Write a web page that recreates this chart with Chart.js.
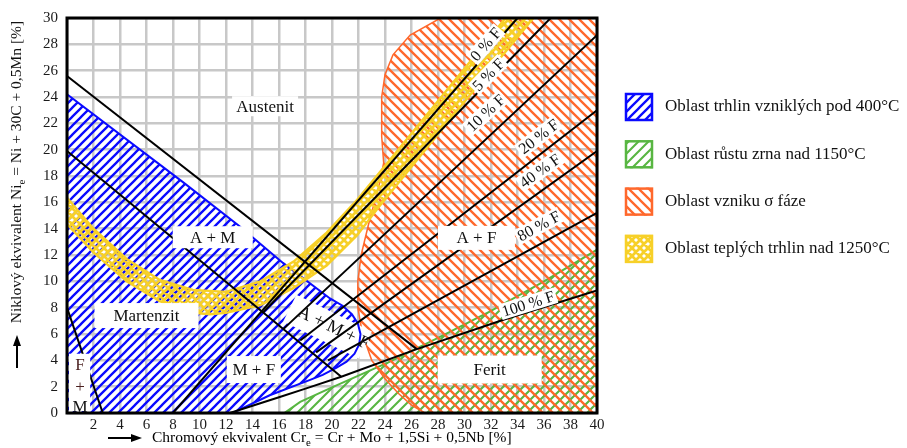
<!DOCTYPE html>
<html>
<head>
<meta charset="utf-8">
<title>Schaefflerův diagram</title>
<script src="https://cdn.jsdelivr.net/npm/chart.js@4.4.1/dist/chart.umd.min.js"></script>
<style>
  body { margin: 0; background: #fff; }
  canvas { display: block; }
</style>
</head>
<body>
<canvas id="schaeffler" width="907" height="448"></canvas>
<script>
const crLabels = [2, 4, 6, 8, 10, 12, 14, 16, 18, 20, 22, 24, 26, 28, 30, 32, 34, 36, 38, 40];
const niLabels = [0, 2, 4, 6, 8, 10, 12, 14, 16, 18, 20, 22, 24, 26, 28, 30];

// phase boundaries, points are [Cr_e, Ni_e]
const austeniteLine = [[0, 25.6], [26.4, 4.85]];
const martensiteLine = [[0, 19.9], [20.7, 2.75]];
const fmLine = [[0, 8.0], [2.7, 0]];
const ferrite0 = [[8.0, 0], [34.0, 30]];
const ferrite5 = [[14.75, 7.6], [36.5, 30]];
const ferrite10 = [[16.3, 6.35], [40, 28.7]];
const ferrite20 = [[17.6, 5.5], [40, 23.0]];
const ferrite40 = [[18.8, 4.6], [40, 19.9]];
const ferrite80 = [[19.7, 4.0], [40, 15.2]];
const ferrite100 = [[12.3, 0], [14, 0.55], [16, 1.2], [18, 1.85], [20.7, 2.75], [26.4, 4.85], [33, 7.1], [40, 9.3]];

// hatched zones
const crackZone = [[0, 24.2], [8.8, 17.5], [13, 14.2], [16.3, 11.4], [19.85, 8.7], [20.8, 8.15], [21.5, 7.5],
  [21.95, 6.8], [22.15, 6.0], [22.05, 5.2], [21.7, 4.5], [21.1, 3.9], [20.35, 3.45], [19.3, 2.9],
  [18.3, 2.5], [15.3, 1.35], [12.5, 0], [0, 0], [0, 24.2]];
const grainZone = [[16.4, 0], [17.6, 0.85], [20, 1.95], [24.25, 3.85], [28, 5.7], [31.9, 7.7], [36, 10], [40, 12.4], [40, 0], [16.4, 0]];
const sigmaZone = [[28.2, 30], [25.9, 28.7], [24.6, 27.2], [24.0, 25.7], [23.75, 24.0], [23.75, 21.0], [23.9, 19.0],
  [23.6, 17.5], [23.2, 16.0], [22.75, 14.3], [22.2, 12.0], [21.95, 10.0], [21.95, 8.0], [22.3, 6.0], [23.0, 4.0],
  [24.0, 2.6], [25.0, 1.5], [26.0, 0.6], [27.0, 0], [40, 0], [40, 30], [28.2, 30]];
const hotCrackBand = [[0, 16.35], [2, 14.0], [4.5, 11.7], [7, 10.1], [9.5, 9.35], [12, 9.2], [14.6, 10.0], [17.1, 11.5],
  [19.6, 13.7], [21.9, 16.2], [25, 20], [28, 23.7], [31, 27.4], [33.1, 30],
  [35.2, 30], [32, 26.1], [29, 22.4], [26, 18.7], [23.5, 15.6], [21.9, 13.5], [19.6, 11.2], [17.1, 9.5],
  [14.6, 8.2], [12, 7.6], [10.8, 7.5], [9.5, 7.6], [7, 8.5], [4.5, 10.0], [2, 12.2], [0, 14.35], [0, 16.35]];

const zoneNames = [
  'Oblast trhlin vzniklých pod 400°C',
  'Oblast růstu zrna nad 1150°C',
  'Oblast vzniku σ fáze',
  'Oblast teplých trhlin nad 1250°C'
];

const SERIF = "'Liberation Serif', 'Times New Roman', serif";

function hatch(color, size, width, dirs) {
  const c = document.createElement('canvas');
  c.width = size; c.height = size;
  const g = c.getContext('2d');
  g.strokeStyle = color;
  g.lineWidth = width;
  g.beginPath();
  for (let k = -1; k <= 1; k++) {
    if (dirs.includes('/')) { g.moveTo(k * size - size, 2 * size); g.lineTo(k * size + 2 * size, -size); }
    if (dirs.includes('\\')) { g.moveTo(k * size - size, -size); g.lineTo(k * size + 2 * size, 2 * size); }
  }
  g.stroke();
  return g.createPattern(c, 'repeat');
}

const blue = '#0a0aff', green = 'rgb(88,182,66)', orange = 'rgb(255,104,44)', yellow = 'rgb(247,208,40)';
const bluePat = hatch(blue, 9, 2.3, '/');
const greenPat = hatch(green, 10, 2.1, '/');
const orangePat = hatch(orange, 10, 2.3, '\\');
const yellowPat = hatch(yellow, 8, 2.8, '/\\');

const toXY = pts => pts.map(([x, y]) => ({ x, y }));
const boundary = (label, pts) => ({
  label, data: toXY(pts), showLine: true, borderColor: '#000', borderWidth: 2,
  pointRadius: 0, fill: false, tension: 0
});
const zone = (label, pts, color, pattern, bw) => ({
  label, data: toXY(pts), showLine: true, borderColor: color, borderWidth: bw,
  backgroundColor: pattern, pointRadius: 0, fill: 'shape', tension: 0
});

// first entries are drawn on top
const datasets = [
  boundary('0 % F', ferrite0),
  boundary('5 % F', ferrite5),
  boundary('10 % F', ferrite10),
  boundary('20 % F', ferrite20),
  boundary('40 % F', ferrite40),
  boundary('80 % F', ferrite80),
  boundary('100 % F', ferrite100),
  boundary('A / A+M', austeniteLine),
  boundary('M', martensiteLine),
  boundary('F+M', fmLine),
  zone(zoneNames[3], hotCrackBand, yellow, yellowPat, 2.4),
  zone(zoneNames[0], crackZone, blue, bluePat, 2),
  zone(zoneNames[2], sigmaZone, orange, orangePat, 1.5),
  zone(zoneNames[1], grainZone, green, greenPat, 2)
];
const BLUE_INDEX = 11;
const legendZones = [
  { name: zoneNames[0], color: blue, pattern: bluePat },
  { name: zoneNames[1], color: green, pattern: greenPat },
  { name: zoneNames[2], color: orange, pattern: orangePat },
  { name: zoneNames[3], color: yellow, pattern: yellowPat }
];

const boxLabels = [
  { text: 'Austenit', at: [14.95, 23.3], w: 66, h: 20 },
  { text: 'A + M', at: [11.0, 13.35], w: 80, h: 22 },
  { text: 'Martenzit', at: [6.0, 7.4], w: 104, h: 25 },
  { text: 'M + F', at: [14.1, 3.3], w: 54, h: 27 },
  { text: 'A + F', at: [30.9, 13.3], w: 77, h: 24 },
  { text: 'Ferit', at: [31.9, 3.3], w: 104, h: 28 }
];
const lineLabels = [
  { text: '0 % F', at: [31.6, 28.0], along: ferrite0 },
  { text: '5 % F', at: [31.8, 25.7], along: ferrite5 },
  { text: '10 % F', at: [31.6, 22.8], along: ferrite10 },
  { text: '20 % F', at: [35.6, 21.0], along: ferrite20 },
  { text: '40 % F', at: [35.7, 18.4], along: ferrite40 },
  { text: '80 % F', at: [35.6, 14.2], along: ferrite80 },
  { text: '100 % F', at: [34.8, 8.3], along: ferrite100.slice(-2) }
];

function subText(ctx, parts, x, y, size) {
  // parts: [text, isSub]
  let cx = x;
  parts.forEach(([t, sub]) => {
    ctx.font = (sub ? size * 0.7 : size) + 'px ' + SERIF;
    ctx.fillText(t, cx, sub ? y + size * 0.3 : y);
    cx += ctx.measureText(t).width;
  });
}
function partsWidth(ctx, parts, size) {
  return parts.reduce((w, [t, sub]) => {
    ctx.font = (sub ? size * 0.7 : size) + 'px ' + SERIF;
    return w + ctx.measureText(t).width;
  }, 0);
}
function arrow(ctx, x0, y0, x1, y1) {
  const a = Math.atan2(y1 - y0, x1 - x0);
  ctx.beginPath();
  ctx.moveTo(x0, y0); ctx.lineTo(x1 - 8 * Math.cos(a), y1 - 8 * Math.sin(a));
  ctx.lineWidth = 2; ctx.strokeStyle = '#000'; ctx.stroke();
  ctx.beginPath();
  ctx.moveTo(x1, y1);
  ctx.lineTo(x1 - 11 * Math.cos(a) + 4 * Math.sin(a), y1 - 11 * Math.sin(a) - 4 * Math.cos(a));
  ctx.lineTo(x1 - 11 * Math.cos(a) - 4 * Math.sin(a), y1 - 11 * Math.sin(a) + 4 * Math.cos(a));
  ctx.closePath(); ctx.fillStyle = '#000'; ctx.fill();
}

const overlay = {
  id: 'overlay',
  beforeDatasetDraw(chart, args) {
    if (args.index !== BLUE_INDEX) return;
    // clear patch for the A + M + F label
    const { ctx, scales: { x, y } } = chart;
    ctx.save();
    ctx.translate(x.getPixelForValue(19.8), y.getPixelForValue(6.5));
    ctx.rotate(26 * Math.PI / 180);
    ctx.fillStyle = '#fff';
    ctx.fillRect(-44, -15, 84, 30);
    ctx.restore();
  },
  afterDatasetsDraw(chart) {
    const { ctx, chartArea: ca, scales: { x, y } } = chart;
    ctx.save();
    ctx.lineWidth = 3; ctx.strokeStyle = '#000';
    ctx.strokeRect(ca.left, ca.top, ca.right - ca.left, ca.bottom - ca.top);

    ctx.textAlign = 'center'; ctx.textBaseline = 'middle';
    ctx.font = '17px ' + SERIF;
    boxLabels.forEach(b => {
      const cx = x.getPixelForValue(b.at[0]), cy = y.getPixelForValue(b.at[1]);
      ctx.fillStyle = '#fff';
      ctx.fillRect(cx - b.w / 2, cy - b.h / 2, b.w, b.h);
      ctx.fillStyle = '#111';
      ctx.fillText(b.text, cx, cy + 1);
    });

    // F + M stacked
    const fx = x.getPixelForValue(0.98);
    ctx.fillStyle = '#fff';
    ctx.fillRect(ca.left + 2, y.getPixelForValue(4.5), x.getPixelForValue(1.75) - ca.left - 2, y.getPixelForValue(0) - y.getPixelForValue(4.5) - 2);
    ctx.fillStyle = '#4a1f1f';
    ctx.fillText('F', fx, y.getPixelForValue(3.6));
    ctx.fillText('+', fx, y.getPixelForValue(1.95));
    ctx.fillStyle = '#111';
    ctx.fillText('M', fx, y.getPixelForValue(0.4));

    // A + M + F along the martensite line
    ctx.save();
    ctx.translate(x.getPixelForValue(20.1), y.getPixelForValue(6.45));
    ctx.rotate(26 * Math.PI / 180);
    ctx.font = '18px ' + SERIF;
    ctx.fillStyle = '#111';
    ctx.fillText('A + M + F', 0, 0);
    ctx.restore();

    ctx.font = '16px ' + SERIF;
    lineLabels.forEach(l => {
      const p0 = l.along[0], p1 = l.along[l.along.length - 1];
      const ang = Math.atan2(y.getPixelForValue(p1[1]) - y.getPixelForValue(p0[1]),
                             x.getPixelForValue(p1[0]) - x.getPixelForValue(p0[0]));
      ctx.save();
      ctx.translate(x.getPixelForValue(l.at[0]), y.getPixelForValue(l.at[1]));
      ctx.rotate(ang);
      const w = ctx.measureText(l.text).width + 4;
      ctx.fillStyle = '#fff';
      ctx.fillRect(-w / 2, -8, w, 16);
      ctx.fillStyle = '#111';
      ctx.fillText(l.text, 0, 1);
      ctx.restore();
    });
    ctx.restore();
  },
  afterDraw(chart) {
    const { ctx, chartArea: ca } = chart;
    ctx.save();
    ctx.fillStyle = '#111';
    ctx.textBaseline = 'middle'; ctx.textAlign = 'left';

    // y title
    const yParts = [['Niklový ekvivalent Ni', false], ['e', true], [' = Ni + 30C + 0,5Mn [%]', false]];
    const yw = partsWidth(ctx, yParts, 15.5);
    ctx.save();
    ctx.translate(17, 172);
    ctx.rotate(-Math.PI / 2);
    subText(ctx, yParts, -yw / 2, 0, 15.5);
    ctx.restore();
    arrow(ctx, 17, 368, 17, 335);

    // x title
    const xParts = [['Chromový ekvivalent Cr', false], ['e', true], [' = Cr + Mo + 1,5Si + 0,5Nb [%]', false]];
    subText(ctx, xParts, 152, 438, 15.5);
    arrow(ctx, 108, 438, 142, 438);

    // legend
    const lx = ca.right + 28;
    legendZones.forEach((z, i) => {
      const cy = 107 + i * 47.3;
      ctx.fillStyle = '#fff';
      ctx.fillRect(lx, cy - 14, 28, 28);
      ctx.fillStyle = z.pattern;
      ctx.fillRect(lx, cy - 14, 28, 28);
      ctx.lineWidth = 2.5; ctx.strokeStyle = z.color;
      ctx.strokeRect(lx + 1, cy - 13, 26, 26);
      ctx.fillStyle = '#111';
      ctx.font = '17px ' + SERIF;
      ctx.fillText(z.name, lx + 40, cy);
    });
    ctx.restore();
  }
};

const tickFont = { family: SERIF, size: 15 };
new Chart(document.getElementById('schaeffler'), {
  type: 'scatter',
  data: { datasets },
  options: {
    responsive: false,
    animation: false,
    events: [],
    layout: { padding: { top: 13, right: 310, left: 0, bottom: 0 } },
    plugins: { legend: { display: false }, tooltip: { enabled: false } },
    scales: {
      x: {
        type: 'linear', min: 0, max: 40,
        ticks: { stepSize: 2, autoSkip: false, maxRotation: 0, padding: 3, color: '#1a1a1a', font: tickFont,
          callback: v => crLabels.includes(v) ? String(v) : '' },
        grid: { color: '#c8c8c8', lineWidth: 2.5, drawTicks: false },
        border: { display: false },
        afterFit: s => { s.height = 35; }
      },
      y: {
        type: 'linear', min: 0, max: 30,
        ticks: { stepSize: 2, autoSkip: false, padding: 9, color: '#1a1a1a', font: tickFont,
          callback: v => niLabels.includes(v) ? String(v) : '' },
        grid: { color: '#c8c8c8', lineWidth: 2.5, drawTicks: false },
        border: { display: false },
        afterFit: s => { s.width = 67; }
      }
    }
  },
  plugins: [overlay]
});
</script>
</body>
</html>
